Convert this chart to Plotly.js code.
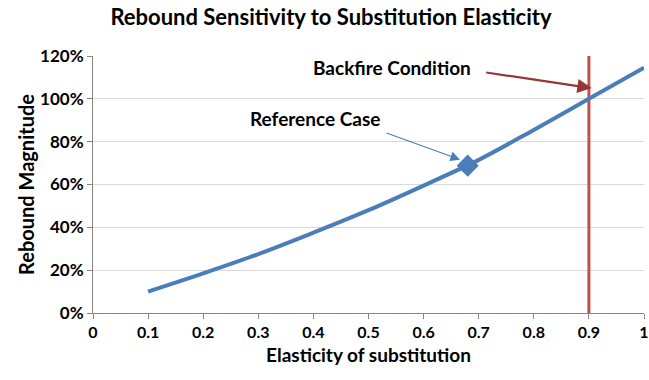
<!DOCTYPE html>
<html>
<head>
<meta charset="utf-8">
<script src="https://cdn.plot.ly/plotly-3.0.1.min.js"></script>
<style>html,body{margin:0;padding:0;background:#fff;}#chart{width:649px;height:380px;}</style>
</head>
<body>
<div id="chart"></div>
<script>
// Data
const elasticity = [0.1, 0.2, 0.3, 0.4, 0.5, 0.6, 0.7, 0.8, 0.9, 1.0];
const rebound = [0.10, 0.185, 0.275, 0.375, 0.48, 0.595, 0.715, 0.855, 1.00, 1.145];
const referenceCase = {x: [0.68], y: [0.688]};
const backfireX = [0.9, 0.9];
const backfireY = [0, 1.2];
const xTicks = [0, 0.1, 0.2, 0.3, 0.4, 0.5, 0.6, 0.7, 0.8, 0.9, 1];
const xTickText = ['0', '0.1', '0.2', '0.3', '0.4', '0.5', '0.6', '0.7', '0.8', '0.9', '1'];
const yTicks = [0, 0.2, 0.4, 0.6, 0.8, 1.0, 1.2];
const yTickText = ['0%', '20%', '40%', '60%', '80%', '100%', '120%'];

const FONT = 'Lato, "Open Sans", sans-serif';

const traces = [
  {x: backfireX, y: backfireY, mode: 'lines', line: {color: '#C0504D', width: 3}, hoverinfo: 'skip'},
  {x: elasticity, y: rebound, mode: 'lines', line: {color: '#4A7EBB', width: 4, shape: 'spline'}},
  {x: referenceCase.x, y: referenceCase.y, mode: 'markers',
   marker: {symbol: 'diamond', size: 17, color: '#4A7EBB'}}
];

const layout = {
  width: 649, height: 380,
  margin: {l: 93, r: 5, t: 56, b: 67},
  paper_bgcolor: '#fff', plot_bgcolor: '#fff',
  showlegend: false,
  font: {family: FONT, color: '#000'},
  title: {text: '<b>Rebound Sensitivity to Substitution Elasticity</b>', font: {size: 22, family: FONT, color: '#000'},
          x: 0.51, xanchor: 'center', y: 0.955, yanchor: 'middle'},
  xaxis: {
    range: [0, 1], tickvals: xTicks, ticktext: xTickText,
    showgrid: false, zeroline: false, showline: true, linecolor: '#868686', linewidth: 1,
    ticks: 'outside', ticklen: 5, tickcolor: '#868686',
    tickfont: {size: 16, family: FONT, weight: 'bold'},
    title: {text: '<b>Elasticity of substitution</b>', font: {size: 19, family: FONT}, standoff: 8}
  },
  yaxis: {
    range: [0, 1.2], tickvals: yTicks, ticktext: yTickText,
    showgrid: true, gridcolor: '#D9D9D9', gridwidth: 1, zeroline: false,
    showline: true, linecolor: '#868686', linewidth: 1,
    ticks: 'outside', ticklen: 5, tickcolor: '#868686',
    tickfont: {size: 17, family: FONT, weight: 'bold'},
    title: {text: '<b>Rebound Magnitude</b>', font: {size: 20, family: FONT}, standoff: 0}
  },
  annotations: [
    {x: 0.543, y: 1.144, xref: 'x', yref: 'y', text: '<b>Backfire Condition</b>', showarrow: false,
     font: {size: 19, family: FONT, color: '#000'}},
    {x: 0.905, y: 1.05, ax: 0.711, ay: 1.124, axref: 'x', ayref: 'y', xref: 'x', yref: 'y',
     text: '', showarrow: true, arrowhead: 2, arrowsize: 1.3, arrowwidth: 2.2, arrowcolor: '#953735'},
    {x: 0.403, y: 0.907, xref: 'x', yref: 'y', text: '<b>Reference Case</b>', showarrow: false,
     font: {size: 19, family: FONT, color: '#000'}},
    {x: 0.666, y: 0.716, ax: 0.53, ay: 0.843, axref: 'x', ayref: 'y', xref: 'x', yref: 'y',
     text: '', showarrow: true, arrowhead: 2, arrowsize: 1.6, arrowwidth: 1.2, arrowcolor: '#4A7EBB'}
  ]
};

Plotly.newPlot('chart', traces, layout, {displayModeBar: false, staticPlot: true});
</script>
</body>
</html>
